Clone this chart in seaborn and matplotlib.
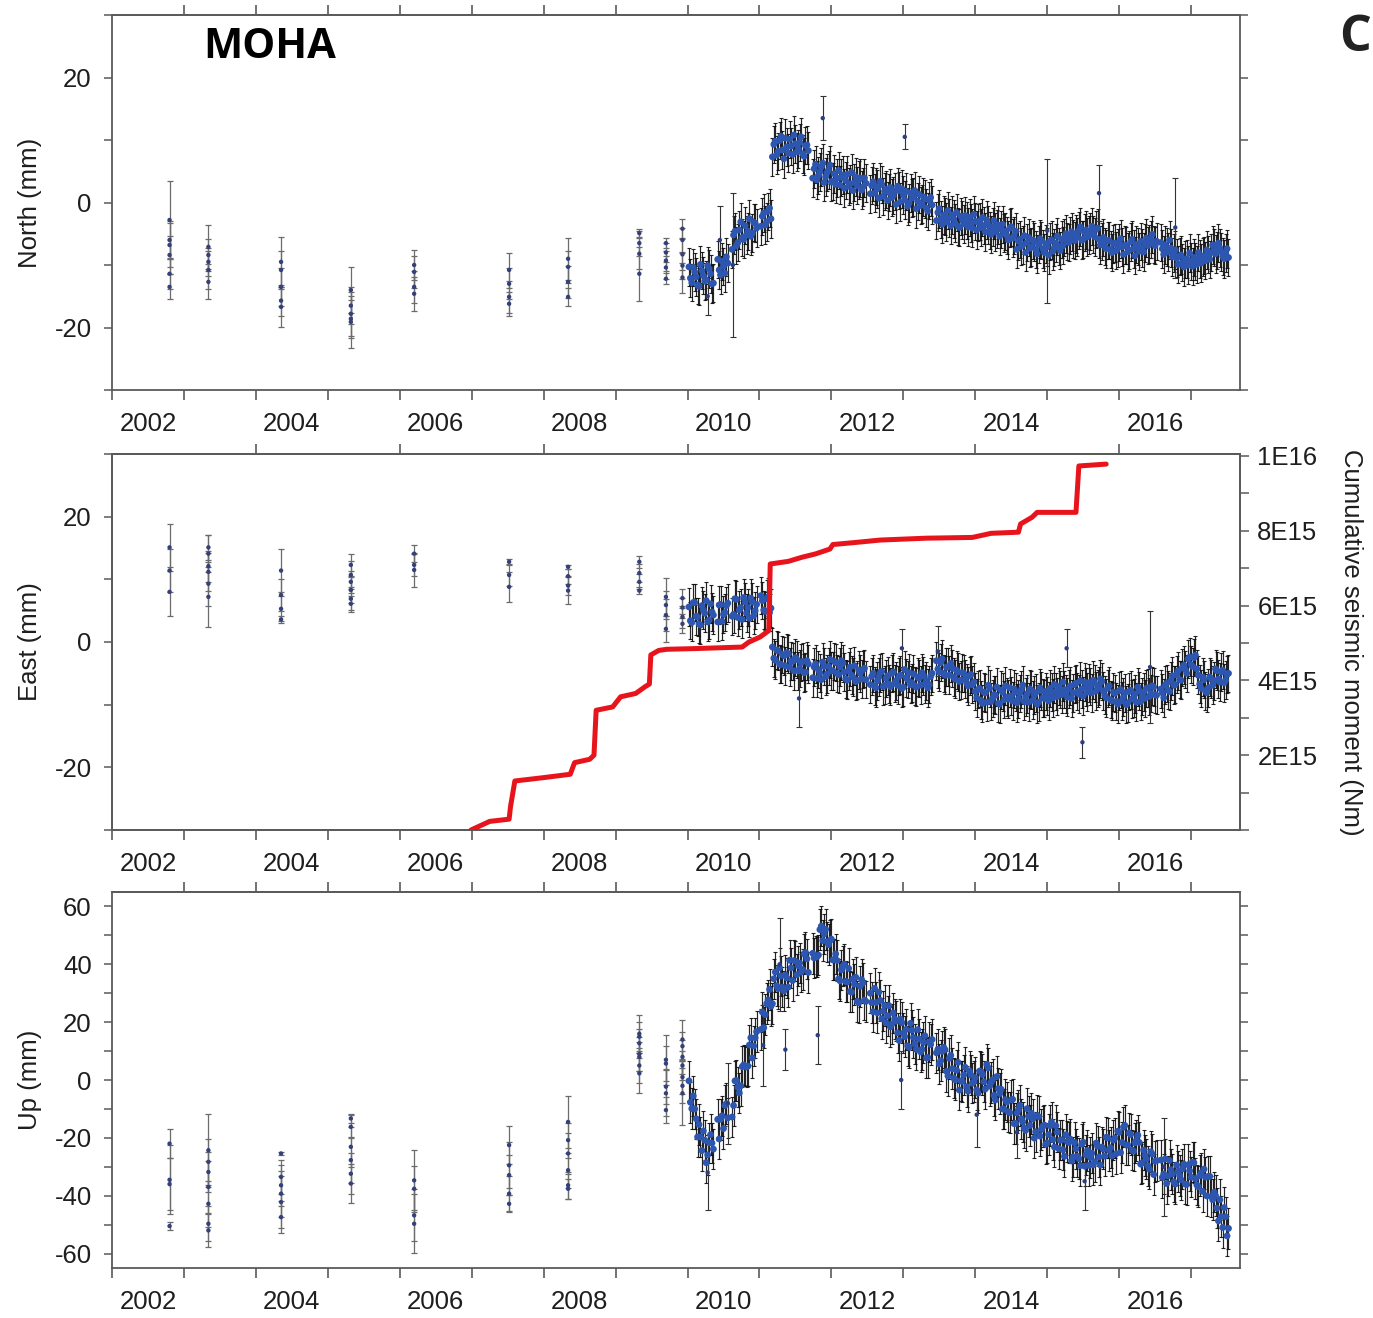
import numpy as np
import matplotlib
matplotlib.use("Agg")
import matplotlib.pyplot as plt
from matplotlib.ticker import (MultipleLocator, FixedLocator, FixedFormatter,
                               NullFormatter, NullLocator, FuncFormatter)
import seaborn as sns

nan = float("nan")

# ---------------------------------------------------------------- data
# campaign epochs (decimal year) before the continuous station started
camp_epochs = [2002.80, 2003.34, 2004.35, 2005.32, 2006.20,
               2007.52, 2008.34, 2009.33, 2009.70, 2009.93]

north_camp_v = [[-2.8, -6.0, -6.8, -8.4, -11.4, -13.5],
                [-7.1, -8.4, -9.5, -10.8, -12.7],
                [-9.5, -10.8, -13.5, -15.7, -16.7],
                [-14.0, -16.5, -17.8, -18.6, -19.1],
                [-10.0, -11.1, -13.5, -14.6],
                [-10.8, -13.0, -15.1, -16.2],
                [-9.0, -10.3, -12.7, -15.1],
                [-4.9, -6.5, -8.2, -11.4],
                [-6.5, -8.0, -9.3, -10.4, -12.2],
                [-4.2, -6.0, -8.3, -10.1, -12.0]]
north_camp_s = [[6.3, 3.0, 3.5, 3.0, 2.5, 2.0],
                [3.5, 2.5, 2.2, 3.0, 2.8],
                [4.0, 3.0, 3.0, 2.5, 3.2],
                [3.7, 3.0, 3.5, 3.0, 4.1],
                [2.4, 2.5, 2.5, 2.7],
                [2.8, 2.5, 2.5, 1.9],
                [3.4, 2.5, 2.5, 1.4],
                [0.6, 2.0, 2.5, 4.3],
                [0.8, 1.5, 1.6, 1.8, 0.9],
                [1.5, 2.0, 2.5, 2.2, 2.4]]

east_camp_v = [[15.1, 11.4, 8.0],
               [15.1, 14.1, 12.1, 11.2, 9.3, 7.2],
               [11.4, 7.5, 5.3, 3.6],
               [12.3, 10.7, 9.6, 8.3, 6.9, 6.1],
               [14.1, 12.3, 11.5],
               [12.8, 10.7, 8.8],
               [12.0, 10.5, 9.0, 8.2],
               [12.8, 11.0, 9.6, 8.2],
               [7.2, 5.9, 4.3, 2.1],
               [7.0, 5.5, 4.0, 2.9]]
east_camp_s = [[3.8, 3.5, 3.9],
               [2.0, 3.0, 2.5, 3.0, 3.5, 4.8],
               [3.4, 2.5, 2.0, 0.6],
               [1.8, 2.2, 1.8, 2.0, 1.8, 1.3],
               [1.4, 1.8, 2.7],
               [0.5, 1.8, 2.4],
               [0.3, 1.2, 1.5, 2.1],
               [1.0, 1.5, 1.2, 0.6],
               [3.0, 2.2, 2.5, 2.1],
               [1.5, 1.6, 1.8, 1.5]]

up_camp_v = [[-22.0, -34.5, -36.0, -50.5],
             [-24.3, -28.3, -31.8, -37.0, -42.8, -49.7, -52.0],
             [-25.4, -33.5, -36.4, -39.3, -42.2, -47.4],
             [-13.3, -16.2, -23.1, -27.7, -32.4, -35.8],
             [-34.7, -37.6, -46.8, -49.7],
             [-22.5, -29.5, -32.9, -39.3, -42.8],
             [-14.5, -20.8, -25.4, -31.2, -36.4, -37.6],
             [16.0, 15.0, 12.7, 9.0, 8.0, 5.0, 2.3],
             [7.0, 5.7, -2.3, -4.6, -10.4],
             [14.0, 11.7, 8.0, 5.0, 1.0, -2.0, -4.6]]
up_camp_s = [[5.0, 12.0, 9.0, 1.3],
             [12.7, 8.0, 7.0, 9.0, 8.0, 6.0, 5.8],
             [0.5, 6.0, 7.0, 8.0, 9.0, 5.5],
             [1.7, 4.0, 7.0, 8.0, 7.0, 6.7],
             [10.4, 8.0, 9.0, 10.2],
             [6.5, 8.0, 7.0, 6.0, 2.9],
             [9.0, 6.0, 7.0, 6.0, 4.6, 3.4],
             [6.5, 5.0, 5.0, 6.0, 5.0, 6.0, 6.9],
             [8.6, 6.0, 6.0, 8.0, 4.6],
             [6.8, 5.0, 6.0, 5.0, 6.0, 6.0, 11.0]]

# continuous solutions, two interleaved sample sets 0.04 yr apart
# set a starts 2010.02, set b starts 2010.04 (nan = no data that day)
CONT_A_START, CONT_B_START, CONT_STEP, CONT_N = 2010.02, 2010.04, 0.04, 188

north_cont_a = [
    -10.3, -12.8, -11.1, -13.2, -9.9, -11.7, -12.4, -10.6, -13.0, nan,
    -9.1, -11.6, -10.2, -8.7, nan, -7.5, -4.6, -6.4, -3.1, -5.9,
    -5.2, -2.6, -4.9, -3.3, nan, -3.8, -1.7, -3.1, -0.9, 7.3,
    9.8, 8.2, 10.6, 7.0, 8.9, 10.1, 7.7, 9.4, 8.6, 10.5,
    7.4, 9.2, nan, 3.9, 6.1, 4.3, 5.7, 3.2, 4.8, 6.0,
    3.4, 2.9, 5.1, 4.0, 2.3, 4.5, 3.0, 1.9, 4.1, 3.6,
    2.0, 3.9, nan, 1.4, 3.3, 2.6, 0.7, 2.9, 1.8, 0.3,
    2.4, 1.1, -0.3, 1.9, 2.2, 0.4, -0.6, 1.5, 0.9, -1.0,
    1.3, -0.2, 0.6, -1.4, 0.8, nan, -2.9, -1.0, -3.5, -2.2,
    -1.3, -3.7, -2.6, -1.6, -4.0, -2.8, -2.1, -3.9, -3.3, -1.9,
    -4.4, -3.0, -2.4, -4.7, -3.6, -5.1, -2.9, -4.2, -5.4, -3.5,
    -4.6, -6.0, -3.9, -5.3, -7.5, -5.9, -6.8, -8.0, -5.6, -7.1,
    -6.3, -8.2, -5.8, -7.4, -6.6, -8.4, -6.0, -7.2, -5.4, -7.7,
    -6.9, -5.0, -6.4, -4.7, -6.1, -5.5, -3.9, -5.9, -4.4, -5.2,
    -3.8, -5.5, -4.1, -6.8, -5.6, -7.4, -6.1, -8.0, -6.5, -7.3,
    -5.8, -8.3, -6.9, -7.6, -5.9, -8.5, -7.0, -6.2, -7.9, -5.7,
    -6.6, -5.1, -6.9, nan, -6.4, -8.3, -7.1, -6.0, -8.7, -7.6,
    -9.9, -8.4, -10.3, -9.0, -8.1, -10.2, -9.4, -8.0, -9.7, -8.5,
    -7.6, -9.1, -6.8, -8.2, -6.5, -7.9, -9.0, -7.4]
north_cont_b = [
    -12.1, -10.4, -11.9, -13.4, -10.9, -12.6, -10.1, -11.4, -12.9, nan,
    -10.8, -9.4, -11.3, -9.7, nan, -5.2, -6.9, -4.4, -5.6, -3.7,
    -4.6, -5.4, -3.2, -4.1, nan, -2.2, -3.6, -1.4, -2.6, 9.3,
    7.6, 9.9, 8.4, 10.3, 7.9, 9.0, 10.8, 8.1, 9.6, 7.8,
    9.1, 8.3, nan, 5.4, 3.6, 4.9, 6.3, 4.1, 5.2, 3.3,
    4.6, 3.9, 2.8, 4.4, 3.5, 2.6, 4.8, 3.2, 2.7, 3.9,
    2.5, 3.1, nan, 2.7, 1.5, 2.2, 3.4, 1.0, 2.1, 1.6,
    0.8, 1.8, 2.6, 0.1, 1.2, 1.8, -0.1, 0.7, 1.9, 0.2,
    -0.5, 0.9, -0.9, 0.3, -0.4, nan, -1.6, -2.7, -2.0, -3.1,
    -2.5, -2.0, -3.3, -3.8, -2.2, -3.4, -2.9, -2.4, -4.1, -3.0,
    -3.2, -4.0, -3.7, -2.8, -4.5, -3.9, -4.7, -3.6, -4.3, -4.9,
    -5.3, -4.1, -5.7, -4.6, -6.2, -7.0, -5.3, -6.4, -7.3, -6.0,
    -7.5, -6.7, -6.1, -8.0, -7.1, -6.2, -7.8, -6.5, -7.0, -5.9,
    -5.6, -6.2, -5.3, -5.8, -5.0, -4.5, -6.0, -4.8, -5.5, -4.6,
    -5.1, -4.3, -5.9, -6.2, -7.0, -6.1, -7.5, -6.6, -7.7, -6.4,
    -7.1, -6.8, -7.9, -6.3, -7.4, -6.7, -7.8, -7.3, -6.5, -6.9,
    -5.9, -6.7, -6.2, nan, -7.4, -6.8, -7.9, -7.3, -8.1, -8.9,
    -8.6, -9.6, -9.1, -10.0, -9.4, -8.8, -9.9, -9.0, -8.7, -9.3,
    -8.3, -8.0, -7.2, -7.7, -7.3, -8.6, -8.1, -8.8]

east_cont_a = [
    5.6, 3.1, 6.3, 4.0, 2.7, 5.1, 6.6, 3.5, 4.8, nan,
    3.2, 6.0, 4.4, 5.8, nan, 4.1, 6.9, 3.9, 5.5, 7.1,
    4.6, 3.8, 6.4, 5.0, nan, 7.4, 5.1, 6.9, 4.7, -0.8,
    -2.9, -1.4, -3.6, -2.2, -1.7, -4.0, -3.1, -2.5, -4.6, -3.3,
    -4.9, -3.0, nan, -5.7, -3.5, -4.4, -6.0, -3.9, -5.1, -2.8,
    -4.6, -3.3, -5.2, -3.0, -4.8, -6.1, -4.0, -5.6, -6.3, -4.5,
    -5.9, -4.2, nan, -6.8, -5.0, -7.3, -5.6, -4.7, -6.9, -5.4,
    -7.1, -4.8, -6.2, -5.5, -7.4, -4.4, -6.0, -6.8, -5.1, -7.2,
    -5.8, -4.9, -6.7, -7.3, -5.5, nan, -3.0, -4.8, -2.7, -5.3,
    -4.0, -3.4, -5.6, -4.5, -6.3, -4.9, -5.9, -7.0, -5.2, -6.4,
    -8.9, -7.4, -9.8, -8.1, -6.9, -9.5, -8.4, -7.2, -9.9, -8.0,
    -7.0, -9.1, -8.6, -7.5, -9.7, -8.2, -6.9, -8.8, -9.6, -7.7,
    -8.5, -9.9, -7.3, -8.9, -7.9, -9.4, -8.0, -6.8, -8.7, -7.6,
    -6.4, -8.3, -7.5, -9.0, -6.8, -7.9, -6.2, -8.6, -7.2, -6.5,
    -8.1, -6.6, -7.4, -5.9, -7.8, -8.9, -7.0, -9.4, -8.2, -9.9,
    -7.6, -8.8, -10.0, -7.9, -9.1, -8.3, -7.2, -9.5, -8.0, -7.4,
    -8.7, -7.0, -8.4, nan, -7.5, -8.9, -6.6, -7.9, -5.4, -6.8,
    -4.6, -6.1, -3.7, -5.0, -2.4, -3.9, -2.1, -5.3, -7.4, -6.0,
    -8.1, -5.6, -6.9, -4.3, -5.9, -4.8, -6.5, -5.2]
east_cont_b = [
    3.4, 6.3, 4.1, 2.9, 5.8, 4.6, 3.2, 6.1, 4.3, nan,
    5.9, 3.3, 4.7, 6.2, nan, 4.4, 6.8, 5.1, 3.6, 6.4,
    5.5, 7.0, 4.2, 6.0, nan, 6.6, 4.9, 7.2, 5.4, -2.6,
    -1.3, -3.5, -2.0, -3.8, -1.9, -3.0, -4.6, -2.8, -4.2, -3.1,
    -4.8, -3.5, nan, -4.0, -5.8, -4.9, -3.2, -5.5, -3.9, -4.6,
    -3.1, -5.0, -4.0, -3.4, -5.9, -4.6, -5.3, -3.8, -6.1, -5.0,
    -4.4, -6.0, nan, -5.5, -7.0, -6.2, -4.9, -7.1, -5.8, -6.7,
    -5.0, -6.6, -6.9, -5.3, -7.2, -5.7, -4.9, -6.5, -7.0, -5.6,
    -6.9, -5.4, -6.2, -6.8, -5.0, nan, -4.3, -3.3, -5.0, -4.0,
    -5.3, -4.2, -5.9, -4.8, -6.1, -5.0, -6.5, -5.4, -6.8, -7.9,
    -7.6, -9.3, -8.0, -9.6, -7.4, -9.0, -8.5, -9.8, -7.7, -9.2,
    -8.8, -7.3, -9.4, -8.0, -9.1, -7.6, -9.5, -8.3, -7.5, -9.3,
    -8.1, -9.6, -7.8, -9.0, -8.6, -7.4, -8.9, -7.9, -7.1, -8.4,
    -7.6, -8.8, -7.0, -8.1, -6.6, -8.3, -7.5, -6.4, -8.0, -7.1,
    -6.1, -7.8, -7.0, -6.3, -8.5, -7.4, -9.2, -8.0, -9.5, -7.8,
    -9.4, -8.1, -9.7, -7.7, -8.9, -9.6, -7.8, -8.7, -9.0, -7.3,
    -8.2, -7.2, -8.5, nan, -8.1, -6.9, -7.7, -6.2, -6.9, -5.2,
    -6.0, -4.1, -4.4, -2.7, -3.6, -2.5, -4.3, -6.7, -5.6, -7.8,
    -7.3, -5.9, -6.2, -4.6, -6.4, -4.5, -6.1, -5.0]

up_cont_a = [
    -0.3, -9.9, -10.0, -19.7, -19.7, -17.6, -28.6, -21.7, -21.8, nan,
    -13.6, -13.6, -16.8, -8.2, nan, -12.8, -0.3, -2.5, -2.0, 5.2,
    4.5, 12.1, 7.6, 14.6, nan, 17.5, 18.1, 26.4, 31.3, 26.4,
    37.3, 31.6, 36.0, 30.8, 35.3, 41.4, 34.4, 41.1, 39.5, 37.3,
    43.6, 41.9, nan, 43.8, 42.7, 43.2, 53.2, 50.5, 47.8, 48.2,
    41.5, 43.6, 34.9, 38.1, 40.0, 33.9, 30.6, 34.9, 35.5, 26.7,
    34.7, 27.6, nan, 30.0, 23.6, 26.8, 30.4, 21.2, 25.8, 22.2,
    18.4, 23.2, 20.4, 13.7, 19.8, 15.0, 11.8, 19.6, 14.7, 10.6,
    14.2, 10.6, 15.3, 7.8, 12.3, nan, 9.4, 5.6, 9.9, 10.5,
    1.4, 8.5, 0.7, 3.4, -3.5, -0.5, 4.4, -3.9, 1.7, -0.6,
    -3.4, 3.1, 1.9, -3.1, 4.2, -0.8, -5.3, 1.2, -4.7, -10.0,
    -6.8, -11.0, -6.9, -15.1, -11.4, -8.8, -14.5, -17.4, -12.6, -11.5,
    -20.1, -12.3, -19.4, -16.0, -22.2, -18.9, -14.5, -23.2, -18.0, -20.8,
    -24.1, -18.9, -21.6, -28.0, -21.6, -26.4, -29.6, -21.5, -25.9, -29.5,
    -25.3, -28.3, -22.9, -29.4, -23.9, -19.8, -24.3, -26.2, -20.1, -17.7,
    -25.1, -16.3, -22.5, -18.3, -24.2, -21.7, -19.1, -29.1, -24.2, -27.3,
    -30.8, -25.6, -28.1, nan, -27.7, -32.5, -35.8, -27.8, -32.5, -36.0,
    -31.6, -34.5, -29.1, -36.1, -31.4, -28.4, -34.1, -36.9, -32.1, -30.8,
    -40.1, -33.3, -41.4, -40.0, -48.7, -47.2, -44.1, -53.9]
up_cont_b = [
    -7.7, -5.5, -13.4, -15.4, -24.4, -20.8, -25.9, -18.9, -23.9, nan,
    -20.4, -12.4, -8.8, -13.1, nan, -8.8, -0.2, -4.5, 4.6, 4.9,
    4.8, 14.6, 11.8, 16.7, nan, 23.5, 22.6, 27.7, 25.5, 35.0,
    32.6, 38.8, 32.1, 36.3, 32.1, 38.8, 41.3, 36.4, 40.4, 38.2,
    44.1, 37.2, nan, 42.2, 42.6, 52.0, 48.2, 52.1, 46.8, 48.7,
    41.6, 41.3, 34.3, 39.4, 34.1, 38.6, 30.4, 33.1, 27.2, 32.4,
    33.6, 27.2, nan, 26.8, 31.7, 23.2, 27.5, 23.8, 19.8, 25.7,
    19.3, 21.1, 16.3, 21.0, 16.2, 17.5, 11.3, 17.2, 12.5, 17.4,
    9.7, 13.0, 7.6, 13.1, 14.0, nan, 10.6, 6.7, 11.3, 3.0,
    7.5, 3.9, 0.1, 6.1, -0.3, 1.8, -2.3, 3.1, -1.1, 0.8,
    -4.5, 2.8, -0.6, 5.4, -2.1, 0.1, -6.9, -3.0, -3.2, -10.1,
    -7.6, -11.3, -6.7, -15.0, -10.3, -13.4, -16.6, -9.9, -15.7, -13.5,
    -17.9, -12.7, -17.1, -15.6, -21.7, -15.8, -20.6, -15.8, -23.7, -20.7,
    -26.4, -21.3, -20.4, -26.6, -23.8, -27.2, -22.2, -29.8, -24.3, -26.8,
    -29.3, -21.8, -26.6, -23.2, -26.3, -20.0, -23.4, -20.8, -25.5, -18.1,
    -21.6, -15.7, -22.5, -18.8, -24.6, -20.9, -21.6, -28.6, -26.1, -29.7,
    -24.8, -32.7, -27.9, nan, -33.7, -27.3, -33.2, -31.0, -35.2, -29.4,
    -33.0, -30.7, -36.0, -29.3, -33.6, -28.6, -36.3, -33.1, -38.5, -33.6,
    -33.3, -40.3, -38.8, -44.3, -41.4, -51.0, -47.3, -51.3]

north_sigma, east_sigma, up_sigma = 3.0, 3.0, 7.0

# isolated noisy daily solutions
north_out_t = [2010.28, 2010.45, 2010.63, 2011.88, 2013.02, 2015.00, 2015.72, 2016.78]
north_out_v = [-15.0, -6.0, -10.0, 13.5, 10.5, -4.5, 1.5, -4.0]
north_out_s = [3.0, 5.5, 11.5, 3.5, 2.0, 11.5, 4.5, 8.0]

east_out_t = [2011.55, 2012.98, 2013.48, 2015.27, 2015.49, 2016.43]
east_out_v = [-9.0, -1.0, -1.5, -1.0, -16.0, -4.0]
east_out_s = [4.5, 3.0, 4.0, 3.0, 2.5, 9.0]

up_out_t = [2010.28, 2010.56, 2011.05, 2011.28, 2011.36, 2011.81, 2012.97, 2014.02, 2014.58, 2015.52, 2016.62]
up_out_v = [-32.0, -8.0, 12.0, 40.0, 10.5, 15.5, 0.0, -12.0, -18.0, -35.0, -30.0]
up_out_s = [13.0, 14.0, 14.0, 16.0, 7.0, 10.0, 10.0, 11.0, 9.0, 10.0, 17.0]

# cumulative seismic moment (units of 1E15 N m)
moment_t = [2006.99, 2007.25, 2007.52, 2007.54, 2007.60, 2008.00, 2008.37, 2008.43,
            2008.64, 2008.70, 2008.73, 2008.96, 2009.07, 2009.28, 2009.41, 2009.47,
            2009.49, 2009.60, 2009.71, 2010.12, 2010.76, 2010.85, 2011.01, 2011.13,
            2011.15, 2011.40, 2011.59, 2011.78, 2011.98, 2012.02, 2012.36, 2012.68,
            2013.32, 2013.96, 2014.22, 2014.60, 2014.63, 2014.79, 2014.86, 2015.40,
            2015.44, 2015.82]
moment_v = [0.00, 0.23, 0.29, 0.63, 1.31, 1.40, 1.49, 1.80,
            1.89, 2.00, 3.20, 3.29, 3.56, 3.65, 3.83, 3.90,
            4.68, 4.80, 4.83, 4.85, 4.89, 5.02, 5.16, 5.33,
            7.11, 7.18, 7.29, 7.38, 7.51, 7.63, 7.69, 7.75,
            7.80, 7.82, 7.93, 7.96, 8.18, 8.36, 8.49, 8.49,
            9.73, 9.78]

year_labels = ["2002", "2004", "2006", "2008", "2010", "2012", "2014", "2016"]

# ---------------------------------------------------------------- style
sns.set_theme(style="ticks")
plt.rcParams["font.family"] = ["Liberation Sans", "DejaVu Sans"]
plt.rcParams["axes.unicode_minus"] = False

SPINE = "#5a5a5a"
TXT = "#1e1e1e"
BLUE = "#2c56b0"
FS = 18.5

fig = plt.figure(figsize=(13.73, 13.18), dpi=100)
W, H = 1373.0, 1318.0


def panel(top_px, bottom_px):
    left, right = 112.0, 1240.0
    return fig.add_axes([left / W, 1 - bottom_px / H,
                         (right - left) / W, (bottom_px - top_px) / H])


ax_n = panel(15, 390)
ax_e = panel(454, 830)
ax_u = panel(892, 1268)

t_a = np.round(CONT_A_START + CONT_STEP * np.arange(CONT_N), 3)
t_b = np.round(CONT_B_START + CONT_STEP * np.arange(CONT_N), 3)
t_cont = np.concatenate([t_a, t_b])


def draw_series(ax, camp_v, camp_s, cont_a, cont_b, sigma, out_t, out_v, out_s):
    # campaign occupations
    ct, cv, cs = [], [], []
    for ep, vals, sigs in zip(camp_epochs, camp_v, camp_s):
        ct += [ep] * len(vals)
        cv += vals
        cs += sigs
    ax.errorbar(ct, cv, yerr=cs, fmt="none", ecolor="#6b6b6b",
                elinewidth=0.9, capsize=2.2, capthick=0.9, zorder=2)
    sns.scatterplot(x=ct, y=cv, ax=ax, color="#34407a", s=10,
                    edgecolor="none", legend=False, zorder=3)
    # continuous station
    cont = np.concatenate([np.asarray(cont_a, float), np.asarray(cont_b, float)])
    ax.errorbar(t_cont, cont, yerr=sigma, fmt="none", ecolor="#0c0c0c",
                elinewidth=0.85, capsize=1.7, capthick=0.8, alpha=0.9, zorder=2)
    ax.errorbar(out_t, out_v, yerr=out_s, fmt="none", ecolor="#333333",
                elinewidth=0.8, capsize=2.0, capthick=0.8, zorder=2)
    sns.scatterplot(x=t_cont, y=cont, ax=ax, color=BLUE, s=24,
                    edgecolor="none", legend=False, zorder=3)
    sns.scatterplot(x=out_t, y=out_v, ax=ax, color="#2a3f80", s=10,
                    edgecolor="none", legend=False, zorder=3)


draw_series(ax_n, north_camp_v, north_camp_s, north_cont_a, north_cont_b,
            north_sigma, north_out_t, north_out_v, north_out_s)
draw_series(ax_e, east_camp_v, east_camp_s, east_cont_a, east_cont_b,
            east_sigma, east_out_t, east_out_v, east_out_s)
draw_series(ax_u, up_camp_v, up_camp_s, up_cont_a, up_cont_b,
            up_sigma, up_out_t, up_out_v, up_out_s)

ax_n.set_ylim(-30, 30)
ax_e.set_ylim(-30, 30)
ax_u.set_ylim(-65, 65)


def style_axes(ax, top_years, ylabel, right_ticks=True, ymajor=20, yminor=10):
    ax.set_xlim(2002.0, 2017.68)
    for sp in ax.spines.values():
        sp.set_visible(True)
        sp.set_color(SPINE)
        sp.set_linewidth(1.3)
    ax.xaxis.set_major_locator(FixedLocator(list(range(2002, 2018))))
    ax.xaxis.set_major_formatter(NullFormatter())
    ax.xaxis.set_minor_locator(FixedLocator([int(y) + 0.5 for y in year_labels]))
    ax.xaxis.set_minor_formatter(FixedFormatter(year_labels))
    ax.tick_params(axis="x", which="major", direction="out", length=7.5,
                   width=1.2, color=SPINE, bottom=True, top=False)
    ax.tick_params(axis="x", which="minor", length=0, pad=16,
                   labelsize=FS, labelcolor=TXT, bottom=True, top=False)
    sec = ax.secondary_xaxis("top")
    sec.xaxis.set_major_locator(FixedLocator(top_years))
    sec.xaxis.set_major_formatter(NullFormatter())
    sec.xaxis.set_minor_locator(NullLocator())
    sec.tick_params(axis="x", which="major", direction="out", length=7.5,
                    width=1.2, color=SPINE)
    sec.spines["top"].set_color(SPINE)
    sec.spines["top"].set_linewidth(1.3)

    ax.yaxis.set_major_locator(MultipleLocator(ymajor))
    ax.yaxis.set_minor_locator(MultipleLocator(yminor))
    ax.yaxis.set_minor_formatter(NullFormatter())
    ax.tick_params(axis="y", which="both", direction="out", length=5.5,
                   width=1.1, color=SPINE, left=True, right=right_ticks,
                   labelleft=True, labelright=False,
                   labelsize=FS, labelcolor=TXT, pad=9)
    ax.set_ylabel(ylabel, fontsize=FS, color=TXT)
    ax.yaxis.set_label_coords(-0.062, 0.5)
    ax.set_xlabel("")


all_years = list(range(2003, 2018))
even_years = [2004, 2006, 2008, 2010, 2012, 2014, 2016]
style_axes(ax_n, all_years, "North (mm)")
style_axes(ax_e, even_years, "East (mm)", right_ticks=False)
style_axes(ax_u, all_years, "Up (mm)")

# cumulative seismic moment on a twin axis of the East panel
ax_m = ax_e.twinx()
moment_nm = np.asarray(moment_v) * 1e15
sns.lineplot(x=moment_t, y=moment_nm, ax=ax_m, color="#e8141c", linewidth=3.6,
             estimator=None, sort=False, legend=False, zorder=4)
ax_m.set_ylim(0, 1.005e16)
ax_m.set_xlim(2002.0, 2017.68)
ax_m.yaxis.set_major_locator(FixedLocator([2e15, 4e15, 6e15, 8e15, 1e16]))
ax_m.yaxis.set_minor_locator(MultipleLocator(1e15))


def sci_label(v, pos):
    exp = int(np.floor(np.log10(v)))
    mant = v / 10 ** exp
    return f"{mant:.0f}E{exp}"


ax_m.yaxis.set_major_formatter(FuncFormatter(sci_label))
ax_m.yaxis.set_minor_formatter(NullFormatter())
ax_m.tick_params(axis="y", which="both", direction="out", length=6.5,
                 width=1.1, color=SPINE, labelsize=FS, labelcolor=TXT, pad=6)
for sp in ax_m.spines.values():
    sp.set_color(SPINE)
    sp.set_linewidth(1.3)
ax_m.set_ylabel("Cumulative seismic moment (Nm)", fontsize=FS, color=TXT,
                rotation=270, va="bottom")
ax_m.yaxis.set_label_coords(1.088, 0.5)
ax_m.set_xlabel("")

# station name and panel letter
fig.text(203 / W, 1 - 47 / H, "MOHA", fontsize=30, fontweight="bold",
         family=["Open Sans", "DejaVu Sans"], color="black",
         ha="left", va="center")
fig.text(1371 / W, 1 - 38 / H, "C", fontsize=36, fontweight="bold",
         family=["Open Sans", "DejaVu Sans"], color="#222222",
         ha="right", va="center")

fig.savefig("out.png", dpi=100)
